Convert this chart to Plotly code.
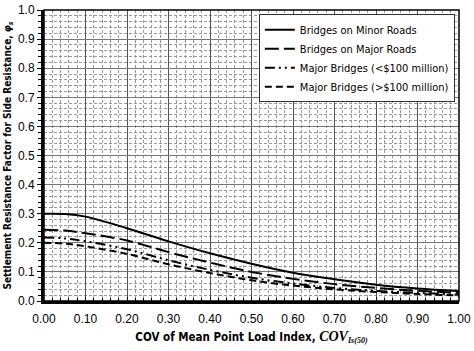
import plotly.graph_objects as go

cov = [0.00, 0.05, 0.10, 0.20, 0.30, 0.40, 0.50, 0.60, 0.70, 0.80, 0.90, 1.00]
minor_roads = [0.300, 0.299, 0.290, 0.250, 0.205, 0.164, 0.128, 0.097, 0.075, 0.056, 0.043, 0.034]
major_roads = [0.245, 0.242, 0.233, 0.208, 0.168, 0.132, 0.100, 0.076, 0.058, 0.045, 0.035, 0.028]
major_lt100 = [0.218, 0.215, 0.205, 0.178, 0.140, 0.107, 0.080, 0.060, 0.045, 0.035, 0.028, 0.022]
major_gt100 = [0.200, 0.197, 0.188, 0.162, 0.126, 0.096, 0.071, 0.053, 0.040, 0.031, 0.024, 0.019]

names = ["Bridges on Minor Roads", "Bridges on Major Roads",
         "Major Bridges (<$100 million)", "Major Bridges (>$100 million)"]
series = [minor_roads, major_roads, major_lt100, major_gt100]
dashes = ["solid", "14px,5px", "10px,4px,2px,4px,2px,4px", "7px,4px"]

FONT = "DejaVu Sans Condensed, Liberation Sans Narrow, Liberation Sans, Arial, sans-serif"
TICKFONT = "Liberation Sans, Arial, sans-serif"

fig = go.Figure()
for nm, ys, d in zip(names, series, dashes):
    fig.add_trace(go.Scatter(x=cov, y=ys, mode="lines", name=nm, line_shape="spline",
                             line=dict(color="black", width=2, dash=d)))

fig.update_layout(
    width=474, height=351,
    margin=dict(l=44, r=15, t=10, b=50, autoexpand=False),
    paper_bgcolor="white", plot_bgcolor="white",
    font=dict(family=TICKFONT, size=12, color="black"),
    showlegend=True,
    legend=dict(x=0.99, y=0.985, xanchor="right", yanchor="top",
                bgcolor="white", bordercolor="#333", borderwidth=1,
                font=dict(family=FONT, size=11), tracegroupgap=0,
                itemwidth=30),
    xaxis=dict(range=[0, 1], dtick=0.1, tickformat=".2f",
               showgrid=True, gridcolor="#555", gridwidth=1,
               minor=dict(dtick=0.02, showgrid=True, gridcolor="#999", griddash="3px,2px",
                          gridwidth=1, ticks="inside", ticklen=3, tickcolor="black"),
               ticks="inside", ticklen=4, tickcolor="black",
               showline=True, linecolor="black", linewidth=3, mirror=False,
               zeroline=False, tickfont=dict(size=12), ticklabelstandoff=5,
               title=dict(text="<b>COV of Mean Point Load Index, </b><b><i><span style='font-family:Liberation Serif, Times New Roman, serif;font-size:14px'>COV</span></i></b><sub><b><i><span style='font-family:Liberation Serif, serif'>Is(50)</span></i></b></sub>",
                          font=dict(size=11.5, family=FONT), standoff=8)),
    yaxis=dict(range=[0, 1], dtick=0.1, tickformat=".1f",
               showgrid=True, gridcolor="#777", gridwidth=1,
               minor=dict(dtick=0.02, showgrid=True, gridcolor="#999", griddash="3px,2px",
                          gridwidth=1, ticks="outside", ticklen=3, tickcolor="black"),
               ticks="outside", ticklen=4, tickcolor="black",
               showline=True, linecolor="black", linewidth=3,
               zeroline=False, tickfont=dict(size=12),
               title=dict(text="<b>Settlement Resistance Factor for Side Resistance, </b><b><i>φ<sub>s</sub></i></b>",
                          font=dict(size=10, family=FONT), standoff=5)),
)

# thin frame on top and right
fig.add_shape(type="rect", xref="paper", yref="paper", x0=0, y0=0, x1=1, y1=1,
              line=dict(color="black", width=1.5), layer="above")

fig.write_html("out.html")
